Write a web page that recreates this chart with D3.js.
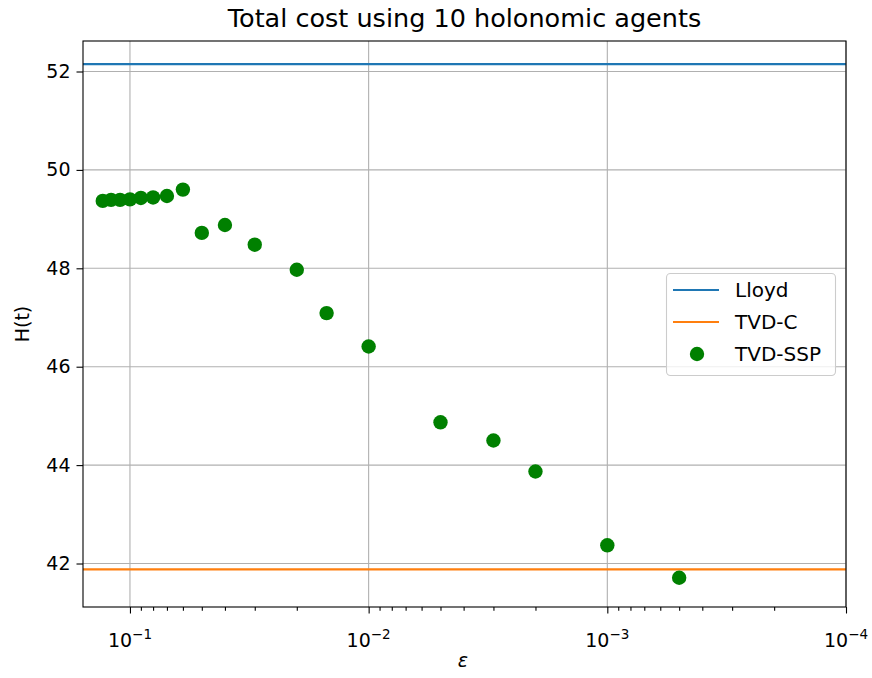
<!DOCTYPE html>
<html>
<head>
<meta charset="utf-8">
<script src="https://cdn.jsdelivr.net/npm/d3@7"></script>
<style>
  html, body { margin: 0; padding: 0; background: #fff; }
  svg { display: block; font-family: "DejaVu Sans", sans-serif; }
</style>
</head>
<body>
<svg id="chart" width="872" height="678"></svg>
<script>
// Tolerance values used for each TVD-SSP run
const epsilons = [0.13, 0.12, 0.11, 0.10, 0.09, 0.08, 0.07, 0.06, 0.05, 0.04, 0.03,
                  0.02, 0.015, 0.01, 0.005, 0.003, 0.002, 0.001, 0.0005];
// Total cost H(t) reached by TVD-SSP for each tolerance
const ssCost = [49.37, 49.39, 49.39, 49.40, 49.43, 49.44, 49.47, 49.60, 48.72, 48.88, 48.48,
                47.97, 47.09, 46.41, 44.87, 44.50, 43.87, 42.37, 41.71];
// Reference costs of the two baseline methods
const lloydCost = 52.15;
const tvdcCost = 41.88;
// Axis ticks
const xTicks = [1e-1, 1e-2, 1e-3, 1e-4];
const xTickExp = ["\u22121", "\u22122", "\u22123", "\u22124"];
const yTicks = [42, 44, 46, 48, 50, 52];
const legendNames = ["Lloyd", "TVD-C", "TVD-SSP"];

const svg = d3.select("#chart");
const m = { left: 83, right: 846, top: 41, bottom: 607 };
const tickFont = 19;

const x = d3.scaleLog().domain([0.1573, 1e-4]).range([m.left, m.right]);
const y = d3.scaleLinear().domain([41.116, 52.62]).range([m.bottom, m.top]);

// grid lines
const grid = svg.append("g").attr("stroke", "#b0b0b0").attr("stroke-width", 1.1);
grid.selectAll("line.gx").data(xTicks).join("line")
  .attr("x1", d => x(d)).attr("x2", d => x(d))
  .attr("y1", m.top).attr("y2", m.bottom);
grid.selectAll("line.gy").data(yTicks).join("line")
  .attr("x1", m.left).attr("x2", m.right)
  .attr("y1", d => y(d)).attr("y2", d => y(d));

// baselines
const lines = [
  { v: lloydCost, c: "#1f77b4" },
  { v: tvdcCost, c: "#ff7f0e" }
];
svg.append("g").selectAll("line").data(lines).join("line")
  .attr("x1", m.left).attr("x2", m.right)
  .attr("y1", d => y(d.v)).attr("y2", d => y(d.v))
  .attr("stroke", d => d.c).attr("stroke-width", 2.1);

// TVD-SSP points
svg.append("g").selectAll("circle").data(epsilons).join("circle")
  .attr("cx", d => x(d)).attr("cy", (d, i) => y(ssCost[i]))
  .attr("r", 7.2).attr("fill", "#008000");

// axes
const minorTicks = [];
for (let e = -4; e <= -1; e++) {
  for (let k = 2; k <= 9; k++) {
    const v = k * Math.pow(10, e);
    if (v <= 0.1573 && v >= 1e-4) minorTicks.push(v);
  }
}
const xAxis = svg.append("g").attr("transform", `translate(0,${m.bottom})`);
xAxis.call(d3.axisBottom(x).tickValues(xTicks).tickFormat("").tickSize(6.5).tickSizeOuter(0));
xAxis.append("g").call(d3.axisBottom(x).tickValues(minorTicks).tickFormat("").tickSize(3.8).tickSizeOuter(0))
  .select(".domain").remove();
xAxis.selectAll(".tick line").attr("stroke", "#000").attr("stroke-width", 1.1);
xAxis.select(".domain").remove();

const xl = svg.append("g").selectAll("text").data(xTicks).join("text")
  .attr("x", d => x(d)).attr("y", 647)
  .attr("text-anchor", "middle").attr("font-size", tickFont).attr("fill", "#000");
xl.append("tspan").text("10");
xl.append("tspan").attr("dy", -8).attr("font-size", 13.5).text((d, i) => xTickExp[i]);

const yAxis = svg.append("g").attr("transform", `translate(${m.left},0)`);
yAxis.call(d3.axisLeft(y).tickValues(yTicks).tickFormat(d3.format("d")).tickSize(6.5).tickPadding(6).tickSizeOuter(0));
yAxis.select(".domain").remove();
yAxis.selectAll(".tick line").attr("stroke", "#000").attr("stroke-width", 1.1);
yAxis.selectAll(".tick text").attr("font-size", tickFont).attr("font-family", "DejaVu Sans").attr("fill", "#000");

// frame
svg.append("rect").attr("x", m.left).attr("y", m.top)
  .attr("width", m.right - m.left).attr("height", m.bottom - m.top)
  .attr("fill", "none").attr("stroke", "#000").attr("stroke-width", 1.1);

// titles
svg.append("text").attr("x", (m.left + m.right) / 2).attr("y", 27)
  .attr("text-anchor", "middle").attr("font-size", 25.5).text("Total cost using 10 holonomic agents");
svg.append("text").attr("x", 463).attr("y", 667)
  .attr("text-anchor", "middle").attr("font-size", 19).attr("font-style", "italic").text("\u03b5");
svg.append("text").attr("transform", "translate(29,324) rotate(-90)")
  .attr("text-anchor", "middle").attr("font-size", 19).text("H(t)");

// legend
const lg = svg.append("g");
lg.append("rect").attr("x", 666.5).attr("y", 273.5).attr("width", 169).attr("height", 102)
  .attr("rx", 4).attr("fill", "#fff").attr("fill-opacity", 0.8)
  .attr("stroke", "#cccccc").attr("stroke-width", 1.1);
const rows = [290, 322, 354];
lg.selectAll("text").data(legendNames).join("text")
  .attr("x", 735).attr("y", (d, i) => rows[i] + 7)
  .attr("font-size", 20).text(d => d);
lg.selectAll("line").data(lines).join("line")
  .attr("x1", 673).attr("x2", 719)
  .attr("y1", (d, i) => rows[i]).attr("y2", (d, i) => rows[i])
  .attr("stroke", d => d.c).attr("stroke-width", 2.1);
lg.append("circle").attr("cx", 697).attr("cy", rows[2]).attr("r", 7.2).attr("fill", "#008000");
</script>
</body>
</html>
